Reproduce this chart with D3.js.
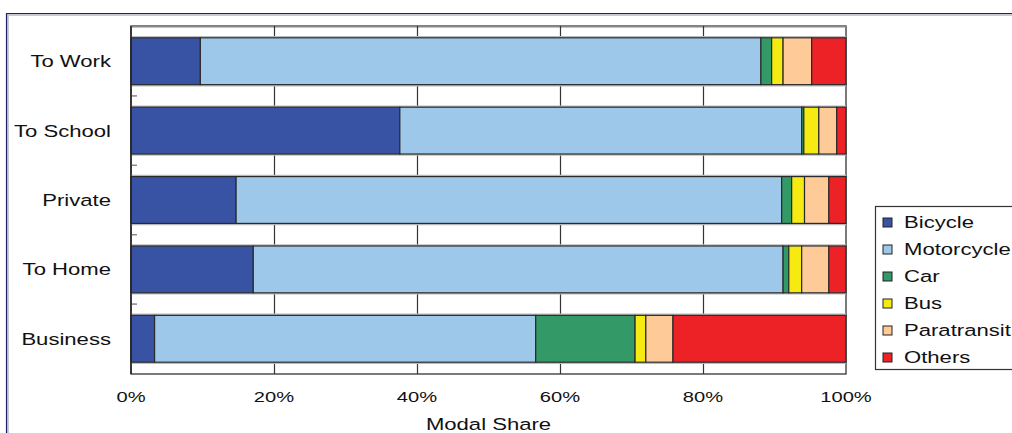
<!DOCTYPE html>
<html>
<head>
<meta charset="utf-8">
<script src="https://cdn.jsdelivr.net/npm/d3@7"></script>
<style>
  html, body { margin: 0; padding: 0; background: #fff; }
  svg { display: block; font-family: "Liberation Sans", Arial, sans-serif; }
</style>
</head>
<body>
<svg id="chart" width="1012" height="433"></svg>
<script>
// Trip purposes, top to bottom
const categories = ["To Work", "To School", "Private", "To Home", "Business"];
// Modes in stacking order
const modes = ["Bicycle", "Motorcycle", "Car", "Bus", "Paratransit", "Others"];
// Share (%) of each mode per trip purpose
const bicycle     = [9.7, 37.6, 14.7, 17.1, 3.3];
const motorcycle  = [78.4, 56.2, 76.3, 74.1, 53.3];
const car         = [1.5, 0.3, 1.4, 0.8, 13.9];
const bus         = [1.6, 2.1, 1.8, 1.8, 1.5];
const paratransit = [4.0, 2.5, 3.4, 3.8, 3.8];
const others      = [4.8, 1.3, 2.4, 2.4, 24.2];
const xTicks = [0, 20, 40, 60, 80, 100];
const modeColors = ["#3853A4", "#9DC8EA", "#339966", "#F5EB12", "#FECB98", "#EC2227"];

const seriesValues = [bicycle, motorcycle, car, bus, paratransit, others];
const rows = categories.map((c, i) => {
  const r = { purpose: c };
  modes.forEach((m, j) => { r[m] = seriesValues[j][i]; });
  return r;
});

const svg = d3.select("#chart");
const plot = { left: 131, right: 846, top: 26, bottom: 374 };
const stretch = 1.3; // wide lettering

const x = d3.scaleLinear().domain([0, 100]).range([plot.left, plot.right]);
const y = d3.scaleBand().domain(categories).range([plot.top, plot.bottom])
  .paddingInner(0.325).paddingOuter(0.17);
const color = d3.scaleOrdinal().domain(modes).range(modeColors);

// Text helper with horizontal stretch around the anchor point
function wideText(sel, px, py) {
  return sel.attr("transform", (d, i) => `translate(${px(d, i)},${py(d, i)}) scale(${stretch},1)`);
}

// Outer frame
svg.append("path")
  .attr("d", "M7.5,433 V14.5 H1012")
  .attr("fill", "none").attr("stroke", "#c8c8d8").attr("stroke-width", 3);
svg.append("path")
  .attr("d", "M6.5,433 V13.5 H1012")
  .attr("fill", "none").attr("stroke", "#1f2460").attr("stroke-width", 1.2);

// Plot border
svg.append("rect")
  .attr("x", plot.left).attr("y", plot.top)
  .attr("width", plot.right - plot.left).attr("height", plot.bottom - plot.top)
  .attr("fill", "#fff").attr("stroke", "#333").attr("stroke-width", 1.3);
svg.append("line")
  .attr("x1", plot.left).attr("x2", plot.right)
  .attr("y1", plot.top + 0.5).attr("y2", plot.top + 0.5)
  .attr("stroke", "#888").attr("stroke-width", 2);

// Vertical gridlines
svg.append("g")
  .selectAll("line")
  .data(xTicks.filter(t => t > 0 && t < 100))
  .join("line")
  .attr("x1", d => x(d) + 0.5).attr("x2", d => x(d) + 0.5)
  .attr("y1", plot.top).attr("y2", plot.bottom)
  .attr("stroke", "#333").attr("stroke-width", 1.2);

// Faint shadow lines along bar edges
svg.append("g")
  .selectAll("line")
  .data(categories.flatMap(c => [y(c) - 1, y(c) + y.bandwidth() + 1]))
  .join("line")
  .attr("x1", plot.left).attr("x2", plot.right)
  .attr("y1", d => d).attr("y2", d => d)
  .attr("stroke", "#bbb").attr("stroke-width", 1.5);

// Minor ticks between categories on the left axis
svg.append("g")
  .selectAll("line")
  .data(categories.slice(1))
  .join("line")
  .attr("x1", plot.left).attr("x2", plot.left + 6)
  .attr("y1", d => y(d) - (y.step() - y.bandwidth()) / 2)
  .attr("y2", d => y(d) - (y.step() - y.bandwidth()) / 2)
  .attr("stroke", "#888").attr("stroke-width", 1.5);

// Stacked bars
const stacked = d3.stack().keys(modes)(rows);
svg.append("g")
  .selectAll("g")
  .data(stacked)
  .join("g")
  .attr("fill", d => color(d.key))
  .selectAll("rect")
  .data(d => d)
  .join("rect")
  .attr("x", d => x(d[0]))
  .attr("y", d => y(d.data.purpose))
  .attr("width", d => x(d[1]) - x(d[0]))
  .attr("height", y.bandwidth())
  .attr("stroke", "#2a2a2a").attr("stroke-width", 1.2);

// Left border redrawn on top
svg.append("line")
  .attr("x1", plot.left).attr("x2", plot.left)
  .attr("y1", plot.top).attr("y2", plot.bottom)
  .attr("stroke", "#222").attr("stroke-width", 1.5);

// Category labels
wideText(svg.append("g")
  .selectAll("text")
  .data(categories)
  .join("text")
  .attr("dy", "0.35em")
  .attr("text-anchor", "end")
  .attr("font-size", 17)
  .attr("fill", "#111")
  .text(d => d), () => 111, d => y(d) + y.bandwidth() / 2);

// X tick labels
wideText(svg.append("g")
  .selectAll("text")
  .data(xTicks)
  .join("text")
  .attr("text-anchor", "middle")
  .attr("font-size", 15.5)
  .attr("fill", "#111")
  .text(d => d + "%"), d => x(d), () => 402);

// X axis title
wideText(svg.append("text")
  .datum("Modal Share")
  .attr("text-anchor", "middle")
  .attr("font-size", 17)
  .attr("fill", "#111")
  .text(d => d), () => x(50), () => 430);

// Legend
const legend = svg.append("g");
legend.append("rect")
  .attr("x", 875.5).attr("y", 206.5)
  .attr("width", 160).attr("height", 163)
  .attr("fill", "#fff").attr("stroke", "#333").attr("stroke-width", 1.2);
const items = legend.selectAll("g")
  .data(modes)
  .join("g")
  .attr("transform", (d, i) => `translate(0, ${222.5 + i * 27})`);
items.append("rect")
  .attr("x", 883).attr("y", -4.5)
  .attr("width", 9).attr("height", 9)
  .attr("fill", d => color(d))
  .attr("stroke", "#222").attr("stroke-width", 1);
wideText(items.append("text")
  .attr("dy", "0.35em")
  .attr("font-size", 17)
  .attr("fill", "#111")
  .text(d => d), () => 904, () => 0);
</script>
</body>
</html>
